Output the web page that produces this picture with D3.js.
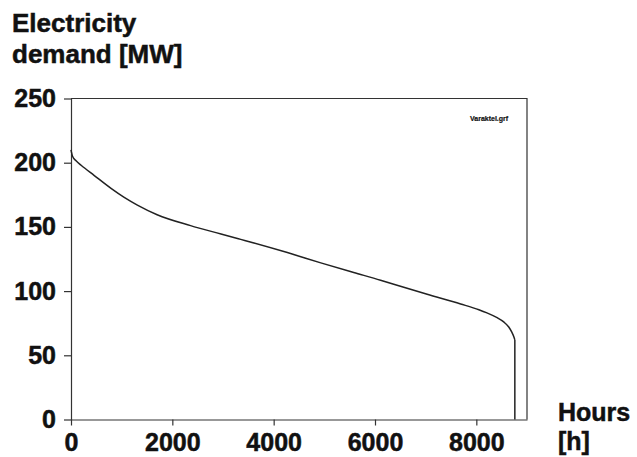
<!DOCTYPE html>
<html>
<head>
<meta charset="utf-8">
<script src="https://cdn.jsdelivr.net/npm/d3@7"></script>
<style>
  body { margin: 0; background: #fff; }
  svg text { font-family: "Liberation Sans", Arial, sans-serif; font-weight: bold; fill: #111; stroke: #111; stroke-width: 0.5px; }
</style>
</head>
<body>
<div id="grafico"></div>
<script>
// load duration curve
var hours  = [0, 30, 100, 200, 460, 790, 1050, 1310, 1700, 2360, 2960, 3350, 3610, 4270, 4930, 5580, 6110, 6370, 7030, 7690, 8050, 8210, 8400, 8540, 8640, 8700, 8740, 8760, 8760];
var demand = [210, 205, 201.5, 198, 190, 180, 173, 167, 159.5, 151, 144.5, 140.3, 137.5, 130, 122, 114.5, 108.5, 105.3, 97.5, 90, 85.5, 83, 79.5, 76, 72, 68, 64.5, 62, 0];

var xTicks = [0, 2000, 4000, 6000, 8000];
var yTicks = [0, 50, 100, 150, 200, 250];

var margin = { top: 98.5, left: 71 },
    width = 527 - 71,
    height = 419.5 - 98.5;

var svg = d3.select("#grafico").append("svg").attr("width", 637).attr("height", 457);

var g = svg.append("g").attr("transform", "translate(" + margin.left + "," + margin.top + ")");

var x = d3.scaleLinear().domain([0, 9000]).range([0, width]);
var y = d3.scaleLinear().domain([0, 250]).range([height, 0]);

// frame top + right
g.append("path")
    .attr("d", "M0,0H" + width + "V" + height)
    .attr("fill", "none").attr("stroke", "#333").attr("stroke-width", 1.2);

var xAxis = g.append("g").attr("transform", "translate(0," + height + ")")
    .call(d3.axisBottom(x).tickValues(xTicks).tickFormat(d3.format("d")).tickSize(6).tickPadding(8).tickSizeOuter(0));

var yAxis = g.append("g")
    .call(d3.axisLeft(y).tickValues(yTicks).tickFormat(d3.format("d")).tickSize(7).tickPadding(8).tickSizeOuter(0));

[xAxis, yAxis].forEach(function(a) {
    a.selectAll("path, line").attr("stroke", "#333").attr("stroke-width", 1.2);
    a.selectAll("text").style("font-size", "25px").attr("font-family", null).attr("fill", "#111");
});

var pts = hours.map(function(h, i) { return [h, demand[i]]; });

var line = d3.line()
    .x(function(d) { return x(d[0]); })
    .y(function(d) { return y(d[1]); });

// smooth part, then the vertical drop at the end of the year
g.append("path")
    .datum(pts.slice(0, -1))
    .attr("d", line.curve(d3.curveMonotoneX))
    .attr("fill", "none")
    .attr("stroke", "#222")
    .attr("stroke-width", 1.5);

g.append("path")
    .datum(pts.slice(-2))
    .attr("d", line.curve(d3.curveLinear))
    .attr("fill", "none")
    .attr("stroke", "#222")
    .attr("stroke-width", 1.5);

// labels
svg.append("text").attr("x", 12).attr("y", 32).style("font-size", "26px").text("Electricity");
svg.append("text").attr("x", 12).attr("y", 63).style("font-size", "26px").text("demand [MW]");
svg.append("text").attr("x", 558).attr("y", 421).style("font-size", "25px").text("Hours");
svg.append("text").attr("x", 558).attr("y", 450).style("font-size", "25px").text("[h]");
svg.append("text").attr("x", 470).attr("y", 121).style("font-size", "7px").style("stroke-width", "0.2px").text("Varaktel.grf");
</script>
</body>
</html>
